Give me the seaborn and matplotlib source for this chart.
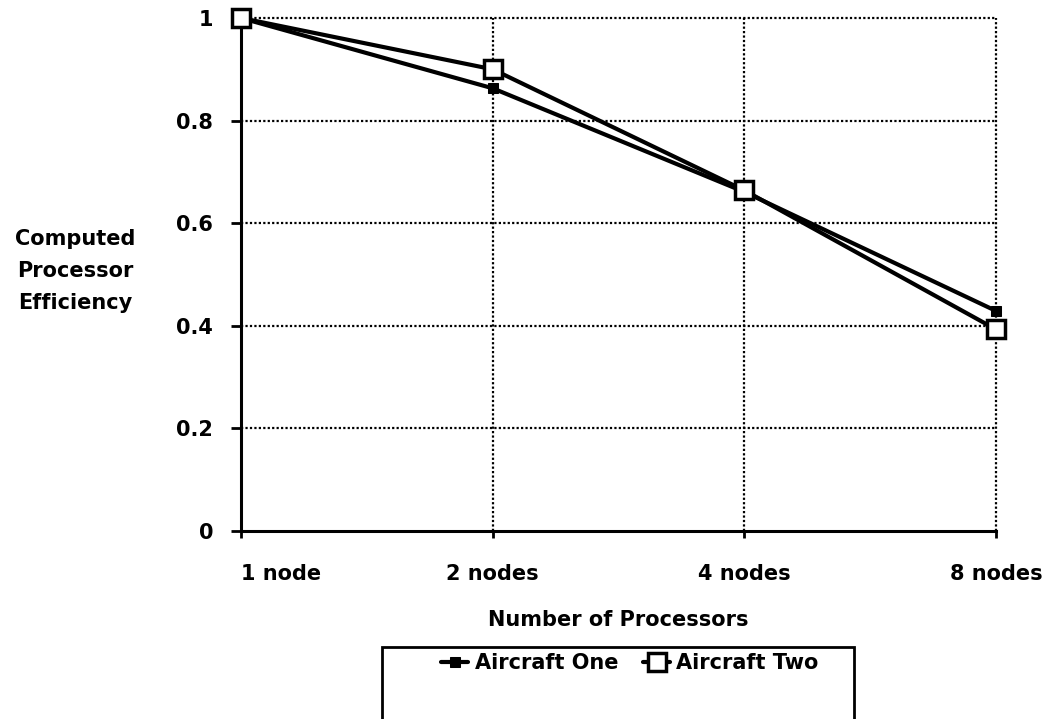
import matplotlib
matplotlib.use('Agg')
import matplotlib.pyplot as plt
import pandas as pd
import seaborn as sns
from matplotlib.patches import Rectangle

# data
nodes = ['1 node', '2 nodes', '4 nodes', '8 nodes']
aircraft_one = [1.0, 0.863, 0.661, 0.429]
aircraft_two = [1.0, 0.900, 0.664, 0.393]
y_ticks = [0, 0.2, 0.4, 0.6, 0.8, 1]
y_tick_labels = ['0', '0.2', '0.4', '0.6', '0.8', '1']

df = pd.DataFrame({'nodes': nodes * 2,
                   'eff': aircraft_one + aircraft_two,
                   'series': ['Aircraft One'] * 4 + ['Aircraft Two'] * 4})

sns.set_style('white')
plt.rcParams['font.family'] = ['DejaVu Sans']
plt.rcParams['font.weight'] = 'bold'
plt.rcParams['text.color'] = 'black'
plt.rcParams['xtick.color'] = 'black'
plt.rcParams['ytick.color'] = 'black'
plt.rcParams['axes.labelcolor'] = 'black'
fs = 15

fig = plt.figure(figsize=(10.52, 7.19), dpi=100)
ax = fig.add_axes([241 / 1052, 1 - 531 / 719, 755 / 1052, 513 / 719])

# dotted grid
for y in y_ticks[1:]:
    ax.axhline(y, color='black', lw=1.6, ls=(0, (1, 1)), zorder=1,
               clip_on=False)
for x in range(1, len(nodes)):
    ax.axvline(x, color='black', lw=1.6, ls=(0, (1, 1)), zorder=1,
               clip_on=False)

sns.lineplot(data=df[df.series == 'Aircraft One'], x='nodes', y='eff', ax=ax,
             color='black', lw=3, marker='s', markersize=7,
             markeredgecolor='black', label='Aircraft One', clip_on=False,
             zorder=3)
sns.lineplot(data=df[df.series == 'Aircraft Two'], x='nodes', y='eff', ax=ax,
             color='black', lw=3, marker='s', markersize=13,
             markerfacecolor='white', markeredgecolor='black',
             markeredgewidth=2.5, label='Aircraft Two', clip_on=False,
             zorder=4)

ax.set_xlim(0, 3)
ax.set_ylim(0, 1)
ax.set_yticks(y_ticks)
ax.set_yticklabels(y_tick_labels, fontsize=fs, fontweight='bold')
ax.set_xticks(range(len(nodes)))
ax.set_xticklabels(nodes, fontsize=fs, fontweight='bold')
ax.get_xticklabels()[0].set_horizontalalignment('left')
ax.tick_params(axis='y', direction='out', length=7, width=2, pad=13,
               left=True)
ax.tick_params(axis='x', direction='out', length=5, width=2, pad=19,
               bottom=True)

for side in ['top', 'right']:
    ax.spines[side].set_visible(False)
for side in ['left', 'bottom']:
    ax.spines[side].set_linewidth(2.2)
    ax.spines[side].set_color('black')

ax.set_xlabel('Number of Processors', fontsize=fs, fontweight='bold')
ax.xaxis.set_label_coords(0.5, (531 - 620) / 513)
ax.xaxis.label.set_verticalalignment('center')
ax.set_ylabel('')
fig.text(75 / 1052, 1 - 271 / 719, 'Computed\nProcessor\nEfficiency',
         ha='center', va='center', fontsize=fs, fontweight='bold',
         linespacing=1.75)

# legend with an open-bottom frame
leg = ax.legend(loc='center', bbox_to_anchor=(630 / 1052, 1 - 663 / 719),
                bbox_transform=fig.transFigure, ncol=2, frameon=False,
                prop={'size': fs, 'weight': 'bold'}, handlelength=1.3,
                handletextpad=0.3, columnspacing=1.2)
fig.patches.append(Rectangle((382 / 1052, -0.05), 472 / 1052,
                             0.05 + 1 - 647 / 719, transform=fig.transFigure,
                             fill=False, lw=2, edgecolor='black'))

fig.savefig('out.png', dpi=100, facecolor='white')
